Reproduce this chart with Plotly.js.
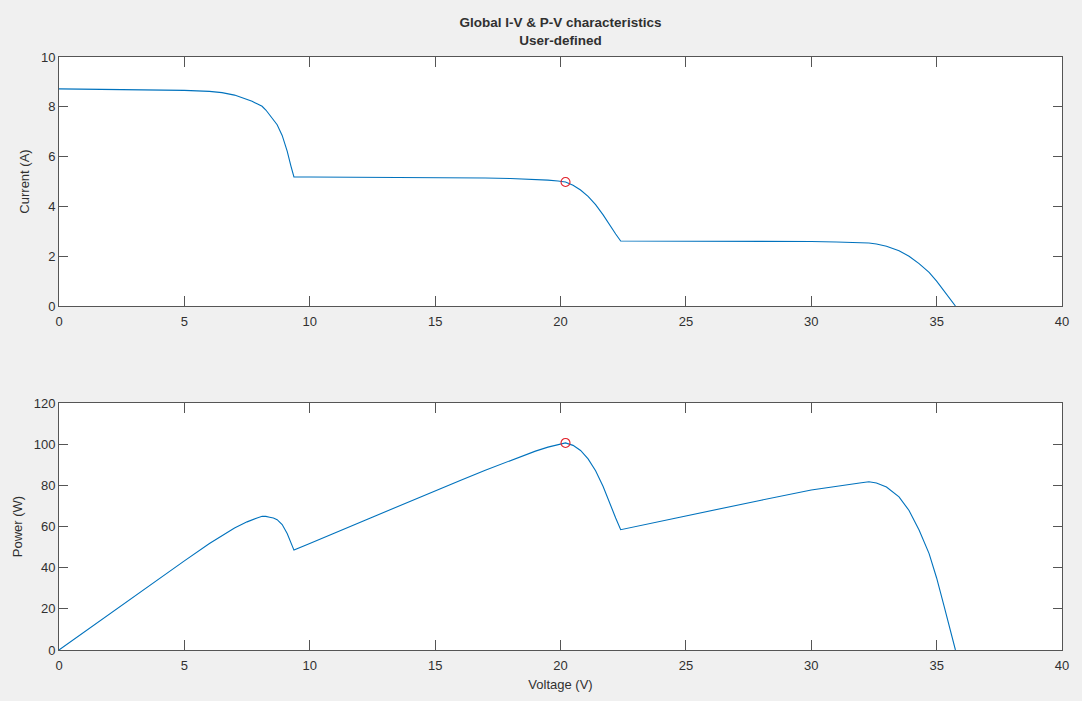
<!DOCTYPE html>
<html>
<head>
<meta charset="utf-8">
<script src="https://cdn.plot.ly/plotly-3.0.1.min.js"></script>
<style>
  html, body { margin: 0; padding: 0; background: #f0f0f0; }
  #chart { width: 1082px; height: 701px; }
</style>
</head>
<body>
<div id="chart"></div>
<script>
// Voltage samples (V)
const voltage = [0, 1, 2, 3, 4, 5, 6, 6.5, 7, 7.5, 7.7, 7.9, 8.1, 8.25, 8.4, 8.55, 8.7, 8.9, 9.1, 9.25, 9.37,
  10, 12, 14, 16, 17, 18, 18.5, 19, 19.5, 19.9, 20.2,
  20.5, 20.8, 21.1, 21.4, 21.7, 22.0, 22.2, 22.4,
  24, 26, 28, 30, 31, 31.5, 32, 32.3, 32.6, 33.0, 33.5, 33.9, 34.3, 34.7, 35.0, 35.3, 35.55, 35.75];
// Current (A)
const current = [8.72, 8.71, 8.70, 8.69, 8.68, 8.66, 8.62, 8.57, 8.47, 8.30, 8.22, 8.12, 8.02, 7.87, 7.68, 7.50, 7.28, 6.85, 6.22, 5.62, 5.18,
  5.18, 5.175, 5.165, 5.15, 5.14, 5.12, 5.105, 5.085, 5.055, 5.02, 4.98,
  4.85, 4.66, 4.40, 4.07, 3.66, 3.18, 2.89, 2.61,
  2.61, 2.61, 2.60, 2.59, 2.57, 2.56, 2.54, 2.53, 2.49, 2.40, 2.22, 2.00, 1.70, 1.35, 1.00, 0.60, 0.27, 0];
// Power (W)
const power = [0, 8.71, 17.40, 26.07, 34.72, 43.30, 51.72, 55.71, 59.29, 62.25, 63.29, 64.15, 64.96, 64.93, 64.51, 64.13, 63.34, 60.97, 56.60, 51.99, 48.54,
  51.80, 62.10, 72.31, 82.40, 87.38, 92.16, 94.44, 96.62, 98.57, 99.90, 100.60,
  99.43, 96.93, 92.84, 87.10, 79.42, 69.96, 64.16, 58.46,
  62.64, 67.86, 72.80, 77.70, 79.67, 80.64, 81.28, 81.72, 81.17, 79.20, 74.37, 67.80, 58.31, 46.85, 35.00, 21.18, 9.60, 0];
// Maximum power point
const mppV = [20.2];
const mppI = [4.98];
const mppP = [100.6];

const xTicks = [0, 5, 10, 15, 20, 25, 30, 35, 40];
const iTicks = [0, 2, 4, 6, 8, 10];
const pTicks = [0, 20, 40, 60, 80, 100, 120];

const lineColor = '#0072BD';
const axColor = '#555555';
const txtColor = '#303030';
const font = { family: 'Liberation Sans, Arial, sans-serif', size: 13, color: txtColor };

const traces = [
  { x: voltage, y: current, type: 'scatter', mode: 'lines', line: { color: lineColor, width: 1.1 }, xaxis: 'x', yaxis: 'y', hoverinfo: 'skip' },
  { x: mppV, y: mppI, type: 'scatter', mode: 'markers', marker: { symbol: 'circle-open', size: 9, color: '#e0202a', line: { width: 1.1 } }, xaxis: 'x', yaxis: 'y' },
  { x: voltage, y: power, type: 'scatter', mode: 'lines', line: { color: lineColor, width: 1.1 }, xaxis: 'x2', yaxis: 'y2', hoverinfo: 'skip' },
  { x: mppV, y: mppP, type: 'scatter', mode: 'markers', marker: { symbol: 'circle-open', size: 9, color: '#e0202a', line: { width: 1.1 } }, xaxis: 'x2', yaxis: 'y2' }
];

function xax(anchor, withTitle) {
  const a = {
    anchor: anchor, range: [0, 40], tickvals: xTicks, ticktext: xTicks.map(String),
    showline: true, linecolor: axColor, linewidth: 1, mirror: 'ticks',
    ticks: 'inside', ticklen: 10, tickcolor: axColor, tickwidth: 1,
    showgrid: false, zeroline: false, tickfont: font, fixedrange: true,
    ticklabelstandoff: 3
  };
  if (withTitle) a.title = { text: 'Voltage (V)', font: font, standoff: 8 };
  return a;
}
function yax(anchor, domain, range, ticks, title) {
  return {
    anchor: anchor, domain: domain, range: range, tickvals: ticks, ticktext: ticks.map(String),
    showline: true, linecolor: axColor, linewidth: 1, mirror: 'ticks',
    ticks: 'inside', ticklen: 9, tickcolor: axColor, tickwidth: 1,
    showgrid: false, zeroline: false, tickfont: font, fixedrange: true,
    title: { text: title, font: font, standoff: 8 }
  };
}

const layout = {
  width: 1082, height: 701,
  paper_bgcolor: '#f0f0f0', plot_bgcolor: '#ffffff',
  margin: { l: 59, r: 20, t: 57, b: 51, pad: 0 },
  showlegend: false,
  font: font,
  title: {
    text: '<b>Global I-V & P-V characteristics</b><br><b>User-defined</b>',
    font: { family: 'Liberation Sans, Arial, sans-serif', size: 13.5, color: txtColor },
    xref: 'paper', x: 0.5, xanchor: 'center',
    yref: 'container', y: 1 - 27 / 701, yanchor: 'top'
  },
  xaxis: xax('y', false),
  yaxis: yax('x', [0.5801, 1], [0, 10], iTicks, 'Current (A)'),
  xaxis2: xax('y2', true),
  yaxis2: yax('x2', [0, 0.4165], [0, 120], pTicks, 'Power (W)')
};

Plotly.newPlot('chart', traces, layout, { displayModeBar: false, staticPlot: true });
</script>
</body>
</html>
